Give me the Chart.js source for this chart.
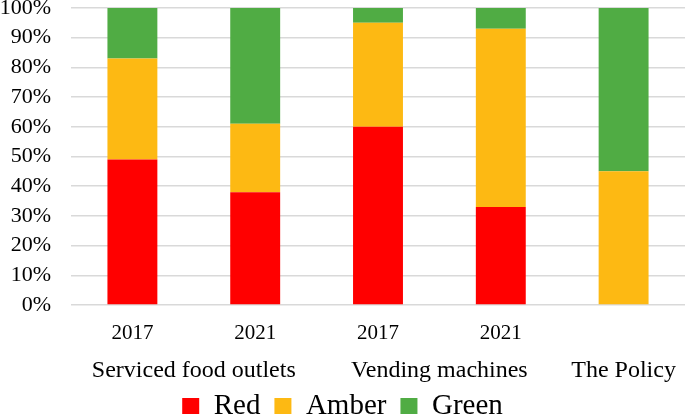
<!DOCTYPE html>
<html>
<head>
<meta charset="utf-8">
<script src="https://cdn.jsdelivr.net/npm/chart.js@4"></script>
<style>
  html, body { margin: 0; padding: 0; background: #ffffff; }
  #wrap { width: 685px; height: 417px; position: relative; }
</style>
</head>
<body>
<div id="wrap"><canvas id="c"></canvas></div>
<script>
// ---- data ----
const categories = ['2017', '2021', '2017', '2021', ''];
const groupLabels = ['Serviced food outlets', 'Vending machines', 'The Policy'];
const groupMembers = [[0, 1], [2, 3], [4]];
const redValues = [49, 38, 60, 33, 0];
const amberValues = [34, 23, 35, 60, 45];
const greenValues = [17, 39, 5, 7, 55];
const yTicks = [0, 10, 20, 30, 40, 50, 60, 70, 80, 90, 100];

const FONT = "'Liberation Serif', 'Times New Roman', serif";

const groupLabelPlugin = {
  id: 'groupLabels',
  afterDraw(chart) {
    const x = chart.scales.x;
    const ctx = chart.ctx;
    ctx.save();
    ctx.font = '24px ' + FONT;
    ctx.fillStyle = '#000000';
    ctx.textAlign = 'center';
    ctx.textBaseline = 'middle';
    groupLabels.forEach((label, i) => {
      const idx = groupMembers[i];
      const px = idx.reduce((s, k) => s + x.getPixelForValue(k), 0) / idx.length;
      ctx.fillText(label, px, x.top + 66);
    });
    ctx.restore();
  }
};

function zeroPad(scale) {
  scale.paddingTop = 0;
  scale.paddingBottom = 0;
  scale.paddingLeft = 0;
  scale.paddingRight = 0;
}

new Chart(document.getElementById('c'), {
  type: 'bar',
  data: {
    labels: categories,
    datasets: [
      { label: 'Red', data: redValues, backgroundColor: '#FF0000' },
      { label: 'Amber', data: amberValues, backgroundColor: '#FDB913' },
      { label: 'Green', data: greenValues, backgroundColor: '#50AC44' }
    ]
  },
  options: {
    responsive: true,
    maintainAspectRatio: false,
    animation: false,
    devicePixelRatio: 1,
    layout: { padding: { top: 8, left: 0, right: 0, bottom: -13.5 } },
    datasets: { bar: { categoryPercentage: 1.0, barPercentage: 0.4065, borderWidth: 0 } },
    plugins: {
      legend: {
        position: 'bottom',
        labels: {
          boxWidth: 17,
          boxHeight: 16,
          padding: 14,
          color: '#000000',
          font: { family: FONT, size: 29 }
        }
      },
      tooltip: { enabled: false }
    },
    scales: {
      x: {
        stacked: true,
        grid: { display: false, drawTicks: false },
        border: { display: false },
        ticks: { color: '#000000', font: { family: FONT, size: 21 }, padding: 16, maxRotation: 0, autoSkip: false },
        afterFit(scale) { scale.height = 72.5; zeroPad(scale); }
      },
      y: {
        stacked: true,
        min: 0,
        max: 100,
        afterBuildTicks(scale) { scale.ticks = yTicks.map(v => ({ value: v })); },
        ticks: {
          color: '#000000',
          font: { family: FONT, size: 22 },
          padding: 20,
          autoSkip: false,
          callback: v => v + '%'
        },
        grid: { color: '#D9D9D9', lineWidth: 1.5, drawTicks: false },
        border: { display: false },
        afterFit(scale) { scale.width = 71; zeroPad(scale); }
      }
    }
  },
  plugins: [groupLabelPlugin]
});
</script>
</body>
</html>
